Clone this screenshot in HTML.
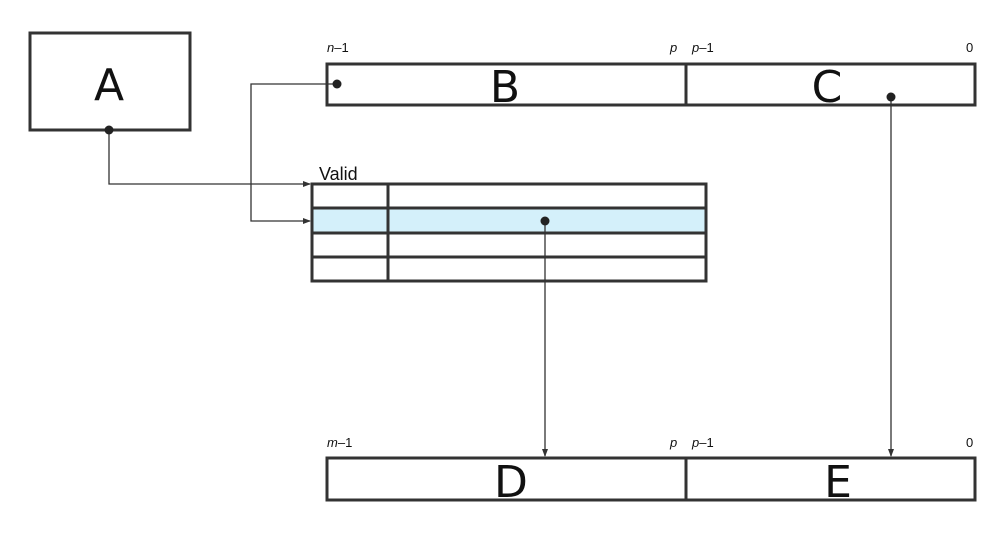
<!DOCTYPE html>
<html><head><meta charset="utf-8"><style>
html,body{margin:0;padding:0;background:#fff;width:1000px;height:548px;overflow:hidden}
text{fill:#111}
.big{font-family:"DejaVu Sans",sans-serif;font-size:44px}
.sm{font-family:"Liberation Sans",sans-serif;font-size:13px}
</style></head><body>
<svg width="1000" height="548" viewBox="0 0 1000 548">
<defs><marker id="ar" markerWidth="8" markerHeight="8" refX="7" refY="4" orient="auto" markerUnits="userSpaceOnUse"><path d="M0,1 L8,4 L0,7 Z" fill="#333"/></marker></defs>
<g stroke="#333" stroke-width="3" fill="#fff">
<rect x="30" y="33" width="160" height="97"/>
<rect x="327" y="64" width="648" height="41"/>
<line x1="686" y1="64" x2="686" y2="105"/>
<rect x="312" y="184" width="394" height="97"/>
<rect x="312" y="208" width="394" height="25" fill="#d4f0fa"/>
<line x1="312" y1="257" x2="706" y2="257"/>
<line x1="388" y1="184" x2="388" y2="281"/>
<rect x="327" y="458" width="648" height="42"/>
<line x1="686" y1="458" x2="686" y2="500"/>
</g>
<g stroke="#333" stroke-width="1.3" fill="none">
<polyline points="109,130 109,184 310,184" marker-end="url(#ar)"/>
<polyline points="337,84 251,84 251,221 310,221" marker-end="url(#ar)"/>
<polyline points="545,221 545,456" marker-end="url(#ar)"/>
<polyline points="891,97 891,456" marker-end="url(#ar)"/>
</g>
<g fill="#222">
<circle cx="109" cy="130" r="4.5"/><circle cx="337" cy="84" r="4.5"/><circle cx="891" cy="97" r="4.5"/><circle cx="545" cy="221" r="4.5"/>
</g>
<text class="big" x="109" y="100" text-anchor="middle">A</text>
<text class="big" x="505" y="102" text-anchor="middle">B</text>
<text class="big" x="827" y="102" text-anchor="middle">C</text>
<text class="big" x="511" y="497" text-anchor="middle">D</text>
<text class="big" x="838" y="497" text-anchor="middle">E</text>
<text class="sm" x="327" y="52"><tspan font-style="italic">n</tspan>–1</text>
<text class="sm" x="670" y="52" font-style="italic">p</text>
<text class="sm" x="692" y="52"><tspan font-style="italic">p</tspan>–1</text>
<text class="sm" x="966" y="52">0</text>
<text class="sm" x="327" y="447"><tspan font-style="italic">m</tspan>–1</text>
<text class="sm" x="670" y="447" font-style="italic">p</text>
<text class="sm" x="692" y="447"><tspan font-style="italic">p</tspan>–1</text>
<text class="sm" x="966" y="447">0</text>
<text x="319" y="180" font-family="Liberation Sans, sans-serif" font-size="18">Valid</text>
</svg>
</body></html>
